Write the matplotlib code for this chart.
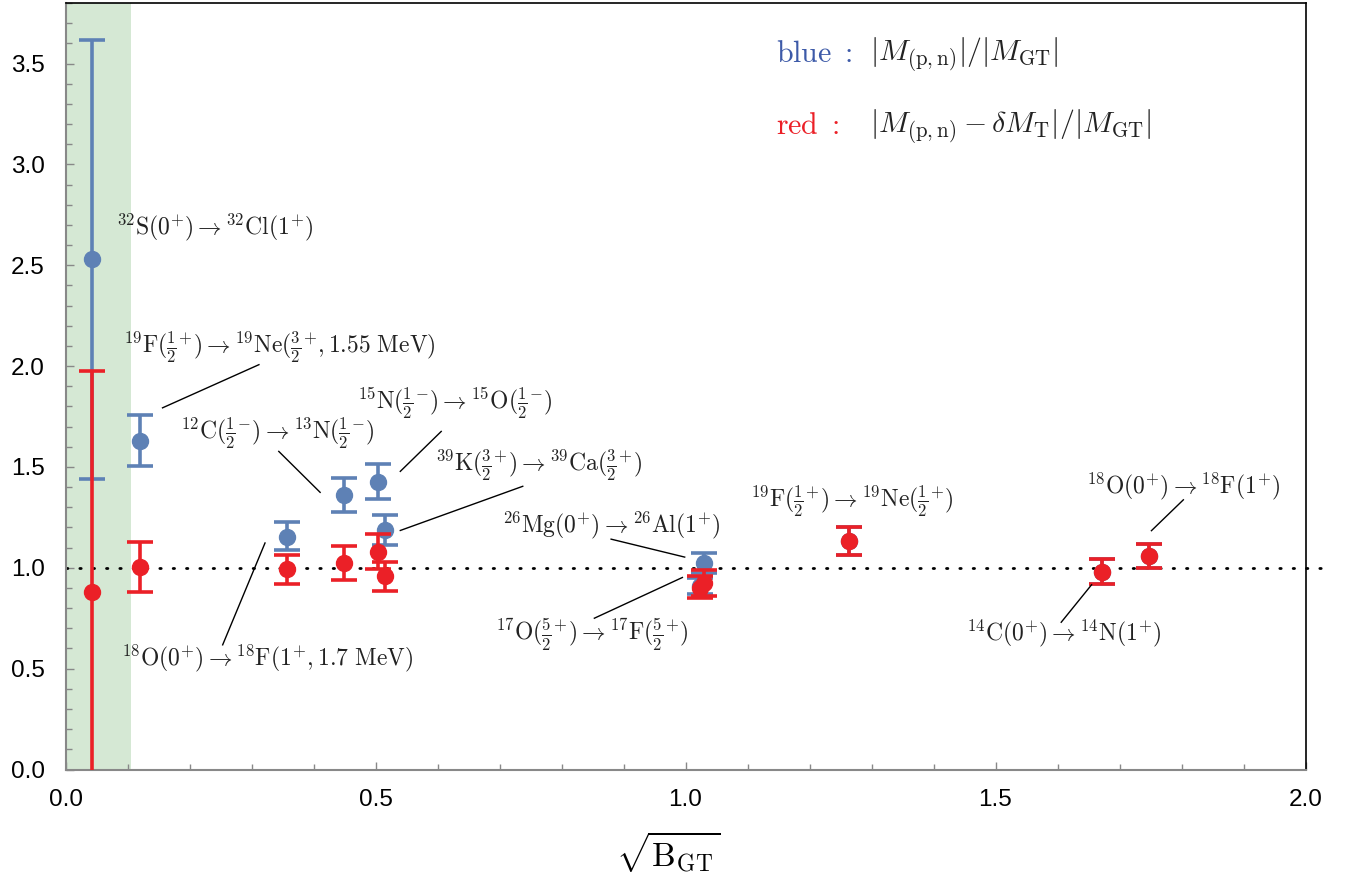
import matplotlib
matplotlib.use("Agg")
import matplotlib.pyplot as plt
from matplotlib.ticker import MultipleLocator
import numpy as np

plt.rcParams['mathtext.fontset'] = 'cm'
plt.rcParams['font.family'] = ['Liberation Sans', 'DejaVu Sans']

# sqrt(B_GT) for each transition
x_vals = [0.0435, 0.120, 0.357, 0.449, 0.504, 0.516, 1.030, 1.024, 1.263, 1.672, 1.748]
# blue: |M(p,n)|/|M_GT|
blue_y = [2.530, 1.627, 1.152, 1.359, 1.427, 1.189, 1.025, 0.910, 1.134, 0.979, 1.060]
blue_lo = [1.440, 1.506, 1.086, 1.279, 1.341, 1.114, 0.975, 0.870, 1.061, 0.919, 0.997]
blue_hi = [3.617, 1.756, 1.225, 1.443, 1.515, 1.262, 1.075, 0.950, 1.200, 1.046, 1.119]
# red: |M(p,n) - dM_T|/|M_GT|
red_y = [0.882, 1.006, 0.995, 1.023, 1.080, 0.958, 0.925, 0.900, 1.134, 0.979, 1.060]
red_lo = [-0.210, 0.881, 0.919, 0.940, 0.995, 0.887, 0.860, 0.850, 1.061, 0.919, 0.997]
red_hi = [1.974, 1.126, 1.065, 1.109, 1.167, 1.031, 0.990, 0.960, 1.200, 1.046, 1.119]

labels = [
    r'$^{32}\mathrm{S}(0^{+}) \rightarrow {}^{32}\mathrm{Cl}(1^{+})$',
    r'$^{19}\mathrm{F}({\frac{1}{2}}^{+}) \rightarrow {}^{19}\mathrm{Ne}({\frac{3}{2}}^{+}, 1.55\ \mathrm{MeV})$',
    r'$^{18}\mathrm{O}(0^{+}) \rightarrow {}^{18}\mathrm{F}(1^{+}, 1.7\ \mathrm{MeV})$',
    r'$^{12}\mathrm{C}({\frac{1}{2}}^{-}) \rightarrow {}^{13}\mathrm{N}({\frac{1}{2}}^{-})$',
    r'$^{15}\mathrm{N}({\frac{1}{2}}^{-}) \rightarrow {}^{15}\mathrm{O}({\frac{1}{2}}^{-})$',
    r'$^{39}\mathrm{K}({\frac{3}{2}}^{+}) \rightarrow {}^{39}\mathrm{Ca}({\frac{3}{2}}^{+})$',
    r'$^{26}\mathrm{Mg}(0^{+}) \rightarrow {}^{26}\mathrm{Al}(1^{+})$',
    r'$^{17}\mathrm{O}({\frac{5}{2}}^{+}) \rightarrow {}^{17}\mathrm{F}({\frac{5}{2}}^{+})$',
    r'$^{19}\mathrm{F}({\frac{1}{2}}^{+}) \rightarrow {}^{19}\mathrm{Ne}({\frac{1}{2}}^{+})$',
    r'$^{14}\mathrm{C}(0^{+}) \rightarrow {}^{14}\mathrm{N}(1^{+})$',
    r'$^{18}\mathrm{O}(0^{+}) \rightarrow {}^{18}\mathrm{F}(1^{+})$',
]

# label placement: (text x, text y, leader line from, leader line to)
label_pos = [
    (0.082, 2.69, None),
    (0.093, 2.09, ((0.1565, 1.793), (0.312, 2.007))),
    (0.090, 0.552, ((0.2535, 0.618), (0.3218, 1.123))),
    (0.1845, 1.668, ((0.344, 1.577), (0.4107, 1.374))),
    (0.470, 1.817, ((0.606, 1.676), (0.540, 1.478))),
    (0.5965, 1.506, ((0.7375, 1.404), (0.540, 1.185))),
    (0.704, 1.208, ((0.880, 1.142), (0.9987, 1.053))),
    (0.693, 0.667, ((0.853, 0.750), (0.995, 0.952))),
    (1.104, 1.329, None),
    (1.4527, 0.676, ((1.606, 0.730), (1.655, 0.916))),
    (1.6466, 1.404, ((1.803, 1.337), (1.7515, 1.184))),
]

blue_c = '#5e81b5'
red_c = '#eb2027'

fig = plt.figure(figsize=(13.53, 8.82), dpi=100)
ax = fig.add_axes([65.5 / 1353, 1 - 769.5 / 882, 1240 / 1353, 766.5 / 882])

ax.axvspan(0, 0.105, color='#d5e8d4', zorder=0, lw=0)

xv = np.array(x_vals)
by = np.array(blue_y)
ry = np.array(red_y)
ax.errorbar(xv, by, yerr=[by - np.array(blue_lo), np.array(blue_hi) - by],
            fmt='o', color=blue_c, ms=11.5, elinewidth=2.6, capsize=9.5,
            capthick=2.6, zorder=3)
ax.errorbar(xv, ry, yerr=[ry - np.array(red_lo), np.array(red_hi) - ry],
            fmt='o', color=red_c, ms=11.5, elinewidth=2.6, capsize=9.5,
            capthick=2.6, zorder=4)

ax.plot([0, 2.026], [1, 1], color='black', lw=2, dashes=(0.5, 4.3),
        dash_capstyle='round', clip_on=False, zorder=2)

for lab, (tx, ty, line) in zip(labels, label_pos):
    ax.text(tx, ty, lab, fontsize=17, ha='left', va='center', color='#222222', zorder=5)
    if line is not None:
        (x1, y1), (x2, y2) = line
        ax.plot([x1, x2], [y1, y2], color='black', lw=1, zorder=5)

# legend-like text
ax.text(1.1454, 3.546, r'$\mathrm{blue}\ :$', color='#3d5aa8', fontsize=21.5, ha='left', va='center')
ax.text(1.298, 3.546, r'$|M_{(\mathrm{p,n})}|/|M_{\mathrm{GT}}|$', color='#222222',
        fontsize=21.5, ha='left', va='center')
ax.text(1.1454, 3.19, r'$\mathrm{red}\ :$', color=red_c, fontsize=21.5, ha='left', va='center')
ax.text(1.298, 3.19, r'$|M_{(\mathrm{p,n})}-\delta M_{\mathrm{T}}|/|M_{\mathrm{GT}}|$',
        color='#222222', fontsize=21.5, ha='left', va='center')

ax.set_xlim(0, 2)
ax.set_ylim(0, 3.8)
ax.xaxis.set_major_locator(MultipleLocator(0.5))
ax.xaxis.set_minor_locator(MultipleLocator(0.1))
ax.yaxis.set_major_locator(MultipleLocator(0.5))
ax.yaxis.set_minor_locator(MultipleLocator(0.1))
ax.xaxis.set_major_formatter(plt.FormatStrFormatter('%.1f'))
ax.yaxis.set_major_formatter(plt.FormatStrFormatter('%.1f'))
ax.tick_params(which='both', direction='in', color='#888888', labelsize=17.5, width=1)
ax.tick_params(which='major', length=6)
ax.tick_params(which='minor', length=4)
ax.tick_params(axis='x', pad=14)
ax.tick_params(axis='y', pad=15)

for s in ['left', 'bottom']:
    ax.spines[s].set_color('#888888')
    ax.spines[s].set_linewidth(1.5)
for s in ['top', 'right']:
    ax.spines[s].set_color('black')
    ax.spines[s].set_linewidth(1.2)

ax.set_xlabel(r'$\sqrt{\mathrm{B}_{\mathrm{GT}}}$', fontsize=24)
ax.xaxis.set_label_coords(0.486, -0.078)

fig.savefig('out.png', dpi=100)
